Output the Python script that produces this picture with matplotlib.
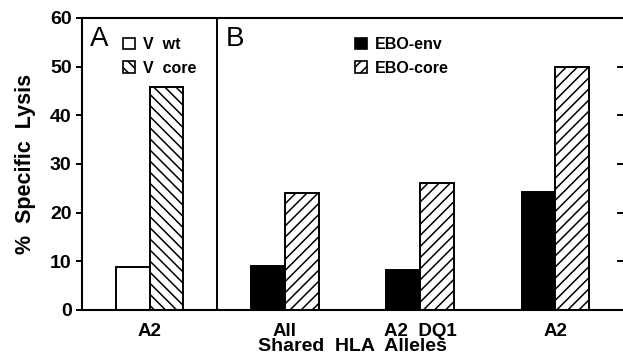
import matplotlib.pyplot as plt
from matplotlib.patches import Patch

plt.rcParams['font.family'] = ['Liberation Sans', 'DejaVu Sans']
plt.rcParams['font.weight'] = 'bold'
plt.rcParams['hatch.linewidth'] = 1.1

# panel A: vaccinia wt vs core
a_labels = ['A2']
v_wt = [8.8]
v_core = [45.8]

# panel B: EBO-env vs EBO-core
b_labels = ['All', 'A2  DQ1', 'A2']
ebo_env = [9.0, 8.2, 24.2]
ebo_core = [24.0, 26.0, 50.0]

fig = plt.figure(figsize=(6.23, 3.6), dpi=100)
ax = fig.add_axes([82 / 623, 50 / 360, 541 / 623, 292 / 360])

w = 0.25
xa = list(range(len(a_labels)))
xb = [i + len(a_labels) for i in range(len(b_labels))]

ax.bar([x - w / 2 for x in xa], v_wt, w, color='white', edgecolor='black', lw=1.4)
ax.bar([x + w / 2 for x in xa], v_core, w, color='white', edgecolor='black',
       hatch='\\\\\\', lw=1.4)
ax.bar([x - w / 2 for x in xb], ebo_env, w, color='black', edgecolor='black', lw=1.4)
ax.bar([x + w / 2 for x in xb], ebo_core, w, color='white', edgecolor='black',
       hatch='///', lw=1.4)

ax.axvline(0.5, color='black', lw=1.4)

ax.set_xlim(-0.5, 3.5)
ax.set_ylim(0, 60)
ax.set_yticks(range(0, 61, 10))
ax.set_xticks(xa + xb)
ax.set_xticklabels(a_labels + b_labels, fontsize=13.5, fontweight='bold')
ax.tick_params(axis='x', length=0, pad=9)
ax.tick_params(axis='y', labelsize=14, width=1.4, length=4, direction='out')
ax.spines['right'].set_visible(False)
for s in ['left', 'bottom', 'top']:
    ax.spines[s].set_linewidth(1.5)

# small inward ticks along the right edge
ax2 = ax.twinx()
ax2.set_ylim(0, 60)
ax2.set_yticks(range(10, 51, 10))
ax2.tick_params(axis='y', direction='in', length=4, width=1.4, labelright=False)
for s in ax2.spines.values():
    s.set_visible(False)

ax.set_ylabel('%  Specific  Lysis', fontsize=15.5, fontweight='bold', labelpad=10)
ax.set_xlabel('Shared  HLA  Alleles', fontsize=14, fontweight='bold', labelpad=-1)

ax.text(-0.44, 55.7, 'A', fontsize=20, fontweight='normal', va='center')
ax.text(0.56, 55.7, 'B', fontsize=20, fontweight='normal', va='center')

leg_kw = dict(loc='upper left', frameon=False, fontsize=11.5, handlelength=0.75,
              handleheight=0.75, handletextpad=0.5, labelspacing=0.55,
              borderaxespad=0, borderpad=0)
leg_a = ax2.legend(handles=[Patch(facecolor='white', edgecolor='black', lw=1.2, label='V  wt'),
                            Patch(facecolor='white', edgecolor='black', lw=1.2,
                                  hatch='\\\\\\', label='V  core')],
                   bbox_to_anchor=(0.0758, 0.935), **leg_kw)
ax2.add_artist(leg_a)
ax2.legend(handles=[Patch(facecolor='black', edgecolor='black', lw=1.2, label='EBO-env'),
                    Patch(facecolor='white', edgecolor='black', lw=1.2, hatch='///',
                          label='EBO-core')],
           bbox_to_anchor=(0.5046, 0.935), **leg_kw)

fig.savefig('out.png', dpi=100)
